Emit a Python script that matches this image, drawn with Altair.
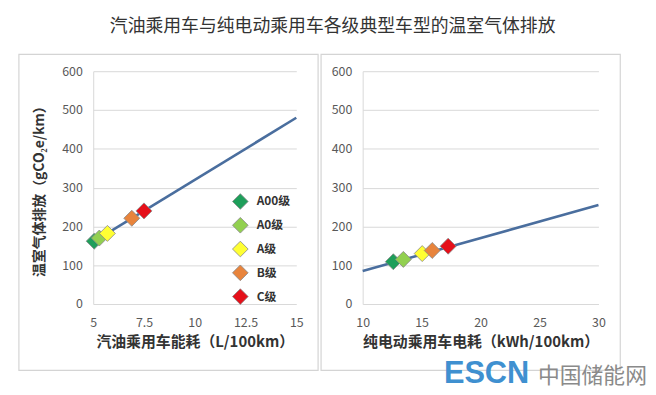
import altair as alt
import pandas as pd

# ---- data ----
classes = ["A00级", "A0级", "A级", "B级", "C级"]
class_colors = ["#1E9E5A", "#92D050", "#FFFF33", "#E8843C", "#E5101A"]

gas_use = [5.05, 5.3, 5.7, 6.9, 7.5]          # L/100km
gas_ghg = [162, 170, 182, 221, 240]           # gCO2e/km
ev_use = [12.6, 13.45, 15.05, 15.9, 17.25]    # kWh/100km
ev_ghg = [109, 115, 130, 138, 149]            # gCO2e/km

gas_line_x = [5, 15]
gas_line_y = [160, 480]
ev_line_x = [10, 30]
ev_line_y = [85, 255]

y_ticks = [0, 100, 200, 300, 400, 500, 600]
gas_ticks = [5, 7.5, 10, 12.5, 15]
ev_ticks = [10, 15, 20, 25, 30]

title_text = "汽油乘用车与纯电动乘用车各级典型车型的温室气体排放"
y_title = "温室气体排放（gCO₂e/km）"
gas_x_title = "汽油乘用车能耗（L/100km）"
ev_x_title = "纯电动乘用车电耗（kWh/100km）"

FONT = "Noto Sans CJK SC"
LINE_COLOR = "#4A6E9E"
GRID = "#D9D9D9"

gas_df = pd.DataFrame({"x": gas_use, "y": gas_ghg, "cls": classes})
ev_df = pd.DataFrame({"x": ev_use, "y": ev_ghg, "cls": classes})
gas_line_df = pd.DataFrame({"x": gas_line_x, "y": gas_line_y})
ev_line_df = pd.DataFrame({"x": ev_line_x, "y": ev_line_y})
one = pd.DataFrame({"k": [0]})

color_scale = alt.Scale(domain=classes, range=class_colors)
y_scale = alt.Scale(domain=[0, 600], nice=False)


def y_axis(title):
    kw = dict(values=y_ticks, tickCount=7, labelOverlap=False,
              labelFlush=False, grid=True, gridColor=GRID, domain=True,
              domainColor=GRID, ticks=False, labelPadding=11,
              labelColor="#595959", labelFontSize=12.5, labelFont=FONT)
    if title:
        kw.update(title=title, titleFont=FONT, titleFontSize=14,
                  titleFontWeight="bold", titleColor="#333333", titlePadding=15)
    else:
        kw.update(title="")
    return alt.Axis(**kw)


def x_axis(title, ticks):
    return alt.Axis(values=ticks, format=".4~g", labelOverlap=False,
                    labelFlush=False, grid=False, domain=False, ticks=False,
                    labelPadding=13, labelColor="#595959", labelFontSize=12.5,
                    labelFont=FONT, title=title, titleFont=FONT,
                    titleFontSize=15, titleFontWeight="bold",
                    titleColor="#333333", titlePadding=5)


def panel(df, line_df, dom, ticks, xtitle, ytitle, width, frame, legend):
    xs = alt.Scale(domain=dom, nice=False)
    xa = x_axis(xtitle, ticks)
    ya = y_axis(ytitle)
    fr = alt.Chart(one).mark_rect(fillOpacity=0, stroke="#D4D4D4",
                                  strokeWidth=1.2).encode(
        x=alt.value(frame[0]), x2=alt.value(frame[1]),
        y=alt.value(frame[2]), y2=alt.value(frame[3]))
    line = alt.Chart(line_df).mark_line(color=LINE_COLOR, strokeWidth=2.6).encode(
        x=alt.X("x:Q", scale=xs, axis=xa),
        y=alt.Y("y:Q", scale=y_scale, axis=ya))
    if legend:
        leg = alt.Legend(title=None, orient="none", legendX=140, legendY=123,
                         symbolType="diamond", symbolSize=250,
                         symbolStrokeColor="#888888", symbolStrokeWidth=0.8,
                         rowPadding=3, labelFont=FONT, labelFontSize=12,
                         labelFontWeight="bold", labelColor="#333333",
                         labelOffset=8, padding=0)
    else:
        leg = None
    pts = alt.Chart(df).mark_point(shape="diamond", filled=True, size=260,
                                   stroke="#888888", strokeWidth=0.8,
                                   opacity=1).encode(
        x=alt.X("x:Q", scale=xs, axis=xa),
        y=alt.Y("y:Q", scale=y_scale, axis=ya),
        color=alt.Color("cls:N", scale=color_scale, legend=leg, sort=classes))
    return alt.layer(fr, line, pts).properties(width=width, height=235)


left = panel(gas_df, gas_line_df, [5, 15], gas_ticks, gas_x_title, y_title,
             205, (-75, 227, -17, 302), True)
right = panel(ev_df, ev_line_df, [10, 30], ev_ticks, ev_x_title, None,
              238, (-42, 260, -17, 302), False)

wm1 = alt.Chart(one).mark_text(text="ESCN", font="Liberation Sans",
                               fontSize=31, fontWeight="bold", color="#3F90D0",
                               align="left", baseline="alphabetic").encode(
    x=alt.value(82), y=alt.value(315))
wm2 = alt.Chart(one).mark_text(text="中国储能网", font=FONT, fontSize=22,
                               color="#8A8A8A", align="left",
                               baseline="alphabetic").encode(
    x=alt.value(177), y=alt.value(315))
right = alt.layer(right, wm1, wm2)

chart = alt.hconcat(left, right, spacing=67, bounds="flush").resolve_legend(
    color="independent"
).properties(
    title=alt.TitleParams(title_text, font=FONT, fontSize=18,
                          fontWeight="normal", color="#333333",
                          anchor="middle", offset=18),
    padding={"left": 10, "top": 8, "right": 0, "bottom": 0},
).configure_view(strokeWidth=0)

chart.save("out.html", embed_options={"renderer": "svg", "actions": False})
